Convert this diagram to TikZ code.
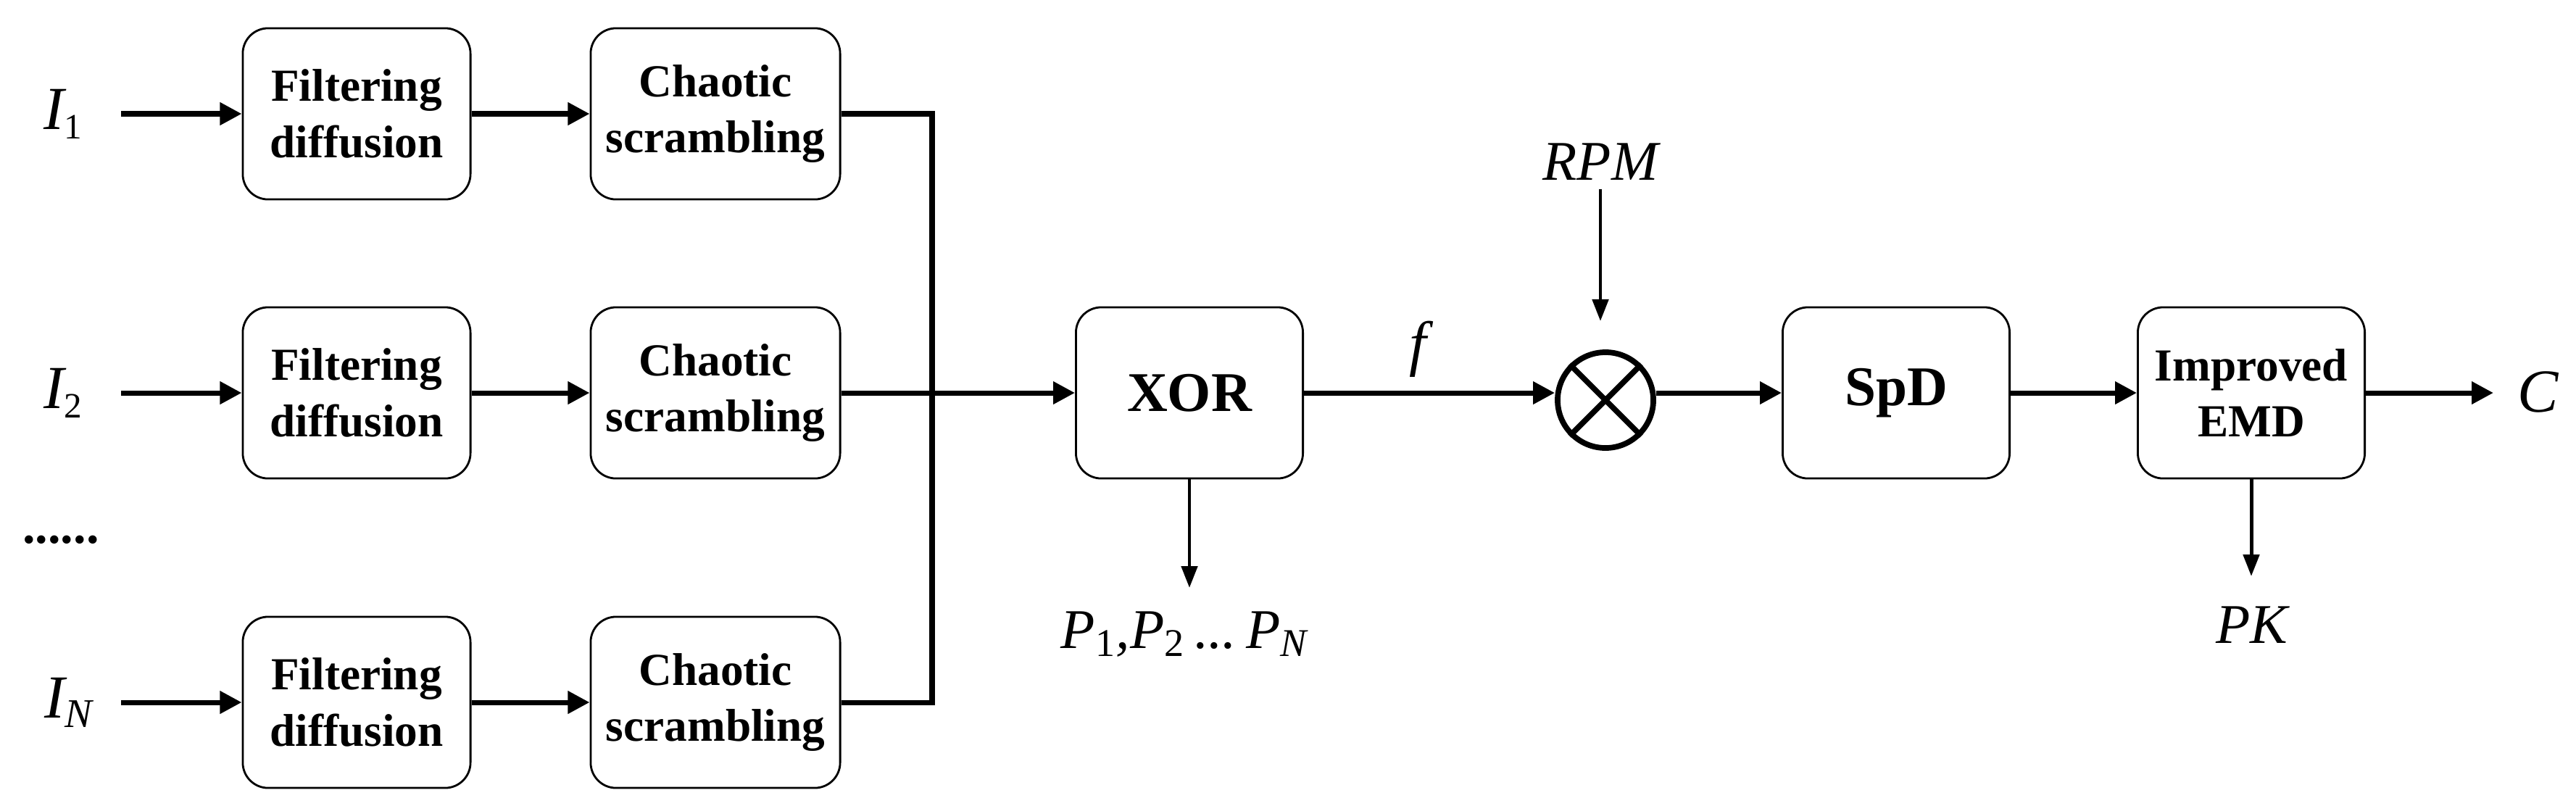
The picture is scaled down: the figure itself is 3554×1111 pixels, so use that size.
\documentclass[tikz,border=0pt]{standalone}
\usepackage{fontspec}
\setmainfont{Liberation Serif}
\usetikzlibrary{arrows.meta}
\begin{document}
\begin{tikzpicture}[x=0.01cm,y=-0.01cm,
  box/.style={draw,rounded corners=0.35cm,line width=0.8pt,minimum height=2.36cm,align=center,inner sep=0pt},
  fbox/.style={box,minimum width=3.14cm,font=\fontsize{18}{22}\selectfont\bfseries},
  cbox/.style={box,minimum width=3.44cm,font=\fontsize{18}{22}\selectfont\bfseries},
  bbox/.style={box,minimum width=3.13cm,font=\fontsize{22}{26}\selectfont\bfseries},
  lab/.style={font=\fontsize{24}{28}\selectfont\itshape,inner sep=0pt},
  arr/.style={line width=2pt,-{Triangle[length=0.3cm,width=0.3cm]}},
  tarr/.style={line width=1.4pt,-{Triangle[length=0.3cm,width=0.22cm]}},
  ln/.style={line width=2pt}]
\useasboundingbox (0,0) rectangle (3554,1111);
\foreach \n/\y/\s in {1/157/1,2/542/2,N/969/N}{
  \node[fbox] (f\n) at (492,\y) {Filtering\\diffusion};
  \node[cbox] (c\n) at (987,\y) {Chaotic\\scrambling};
  \coordinate (s\n) at (167,\y);
  \draw[arr] (s\n) -- (f\n);
  \draw[arr] (f\n) -- (c\n);
}
\node[lab] (i1) at (88,157) {I\textsubscript{\upshape\fontsize{14}{14}\selectfont 1}};
\node[lab] (i2) at (88,542) {I\textsubscript{\upshape\fontsize{14}{14}\selectfont 2}};
\node[lab] (iN) at (95,969) {I\textsubscript{\fontsize{16}{16}\selectfont N}};
\node[font=\fontsize{20}{20}\selectfont\bfseries] (dots) at (84,745) {......};
\node[bbox] (xor) at (1641,542) {XOR};
\coordinate (j1) at (1286,157);
\coordinate (jN) at (1286,969);
\draw[ln] (c1.east) -- (j1) -- (jN) -- (cN.east);
\draw[arr] (c2) -- (xor);
\node[draw,circle,line width=2.2pt,minimum size=1.32cm,inner sep=0pt] (mul) at (2215,552) {};
\draw[line width=2.2pt] (mul.north west) -- (mul.south east) (mul.north east) -- (mul.south west);
\draw[arr] (xor.east) -- (xor.east -| mul.west);
\node[lab] (f) at (1956,482) {f};
\node[lab,font=\fontsize{22}{26}\selectfont\itshape] (rpm) at (2208,223) {RPM};
\coordinate (rpme) at (2208,443);
\draw[tarr] (rpm.south) ++(0,12) -- (rpme);
\node[bbox] (spd) at (2616,542) {SpD};
\node[box,minimum width=3.13cm,font=\fontsize{18}{22}\selectfont\bfseries] (emd) at (3106,542) {Improved\\EMD};
\draw[arr] (mul.east |- spd.west) -- (spd.west);
\draw[arr] (spd) -- (emd);
\node[lab] (cout) at (3502,541) {C};
\coordinate (ce) at (3440,542);
\draw[arr] (emd.east) -- (ce);
\node[lab,font=\fontsize{22}{26}\selectfont\itshape] (pk) at (3107,862) {PK};
\coordinate (pke) at (3106,795);
\draw[tarr] (emd.south) -- (pke);
\node[lab,font=\fontsize{22}{26}\selectfont\itshape] (pp) at (1634,875) {P\textsubscript{\upshape 1},P\textsubscript{\upshape 2}\,...\,P\textsubscript{N}};
\coordinate (ppe) at (1641,811);
\draw[tarr] (xor.south) -- (ppe);
\end{tikzpicture}
\end{document}
